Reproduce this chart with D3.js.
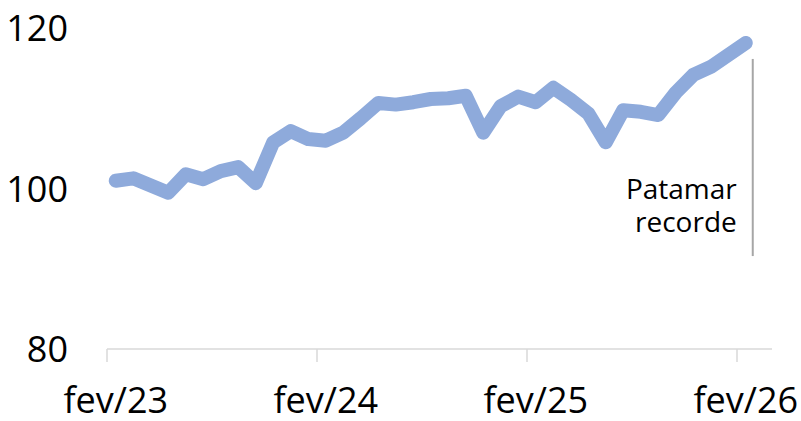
<!DOCTYPE html>
<html>
<head>
<meta charset="utf-8">
<script src="https://cdn.jsdelivr.net/npm/d3@7"></script>
<style>
  body { margin: 0; background: #fff; }
  svg { display: block; font-family: "Open Sans", sans-serif; }
</style>
</head>
<body>
<div id="chart"></div>
<script>
// categories (monthly), last one has no data
var months = ["fev/23","mar/23","abr/23","mai/23","jun/23","jul/23","ago/23","set/23","out/23","nov/23","dez/23",
  "jan/24","fev/24","mar/24","abr/24","mai/24","jun/24","jul/24","ago/24","set/24","out/24","nov/24","dez/24",
  "jan/25","fev/25","mar/25","abr/25","mai/25","jun/25","jul/25","ago/25","set/25","out/25","nov/25","dez/25",
  "jan/26","fev/26","mar/26"]

var values = [101.0, 101.3, 100.4, 99.5, 101.8, 101.2, 102.2, 102.7, 100.7, 105.8, 107.2,
  106.2, 106.0, 107.0, 108.8, 110.7, 110.5, 110.8, 111.2, 111.3, 111.6, 107.0, 110.3,
  111.5, 110.8, 112.6, 111.1, 109.4, 105.8, 109.8, 109.6, 109.2, 112.0, 114.2, 115.2,
  116.7, 118.2]

var xTicks = ["fev/23", "fev/24", "fev/25", "fev/26"]
var yTicks = [80, 100, 120]
var noteLines = ["Patamar", "recorde"]
var noteRange = [91.6, 116.2]

var width = 801, height = 421

var svg = d3.select("#chart")
  .append("svg")
  .attr("width", width)
  .attr("height", height)

var x = d3.scaleBand()
  .domain(months)
  .range([107, 772])
  .padding(0)

var y = d3.scaleLinear()
  .domain([80, 120])
  .range([349, 28.5])

var bw = x.bandwidth()

// x axis: ticks at the start of each fev category, labels at category centre
svg.append("line")
  .attr("x1", x.range()[0]).attr("x2", x.range()[1])
  .attr("y1", y(80)).attr("y2", y(80))
  .attr("stroke", "#d9d9d9").attr("stroke-width", 1.5)

svg.selectAll(".xtick")
  .data(xTicks)
  .enter().append("line")
  .attr("class", "xtick")
  .attr("x1", function(d) { return x(d) }).attr("x2", function(d) { return x(d) })
  .attr("y1", y(80)).attr("y2", y(80) + 13)
  .attr("stroke", "#d9d9d9").attr("stroke-width", 1.5)

svg.selectAll(".xlabel")
  .data(xTicks)
  .enter().append("text")
  .attr("class", "xlabel")
  .attr("x", function(d) { return x(d) + bw / 2 })
  .attr("y", 413)
  .attr("text-anchor", "middle")
  .attr("font-size", 36)
  .attr("fill", "#000")
  .text(function(d) { return d })

// y labels
svg.selectAll(".ylabel")
  .data(yTicks)
  .enter().append("text")
  .attr("class", "ylabel")
  .attr("x", 68)
  .attr("y", function(d) { return y(d) })
  .attr("dy", "0.36em")
  .attr("text-anchor", "end")
  .attr("font-size", 36)
  .attr("fill", "#000")
  .text(function(d) { return d })

// clip to plot area
svg.append("clipPath").attr("id", "plot")
  .append("rect")
  .attr("x", x.range()[0]).attr("y", 0)
  .attr("width", x.range()[1] - x.range()[0]).attr("height", height)

var line = d3.line()
  .x(function(d, i) { return x(months[i]) + bw / 2 })
  .y(function(d) { return y(d) })

svg.append("path")
  .datum(values)
  .attr("clip-path", "url(#plot)")
  .attr("d", line)
  .attr("fill", "none")
  .attr("stroke", "#8eaadb")
  .attr("stroke-width", 14)
  .attr("stroke-linejoin", "round")
  .attr("stroke-linecap", "round")

// annotation
var lastX = x(months[values.length - 1]) + bw / 2
svg.append("line")
  .attr("x1", lastX + 7).attr("x2", lastX + 7)
  .attr("y1", y(noteRange[1])).attr("y2", y(noteRange[0]))
  .attr("stroke", "#a6a6a6").attr("stroke-width", 2)

svg.selectAll(".note")
  .data(noteLines)
  .enter().append("text")
  .attr("class", "note")
  .attr("x", lastX - 9)
  .attr("y", function(d, i) { return 199 + i * 33 })
  .attr("text-anchor", "end")
  .attr("font-size", 28)
  .attr("fill", "#000")
  .text(function(d) { return d })
</script>
</body>
</html>
